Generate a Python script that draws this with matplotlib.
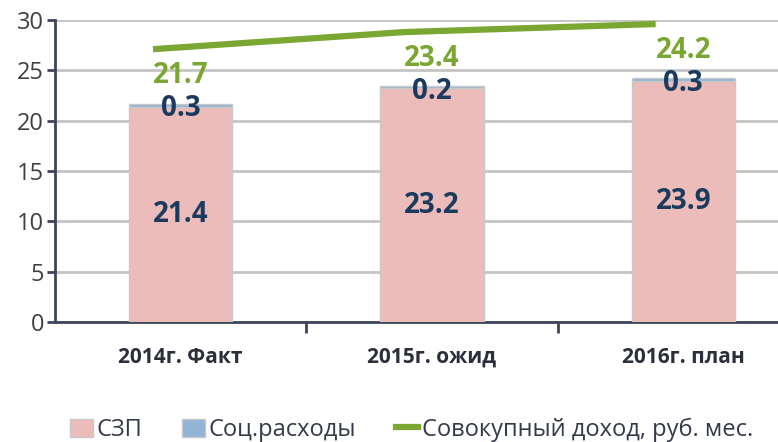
import numpy as np
import matplotlib.pyplot as plt
from matplotlib.patches import Patch
from matplotlib.lines import Line2D

# данные
years = ['2014г. Факт', '2015г. ожид', '2016г. план']
szp = [21.4, 23.2, 23.9]
soc = [0.3, 0.2, 0.3]
income = [21.7, 23.4, 24.2]

plt.rcParams['font.family'] = ['Open Sans', 'DejaVu Sans']

fig = plt.figure(figsize=(7.78, 4.42), dpi=100)
ax = fig.add_axes([55/778, 120/442, 754/778, 302/442])

x = np.arange(len(years))
ax.bar(x, szp, width=0.41, color='#ebbcb9', edgecolor='#c8c8c8', linewidth=1, zorder=3)
ax.bar(x, soc, width=0.41, bottom=szp, color='#92b4d6', edgecolor='#c8c8c8', linewidth=1, zorder=3)

for i in range(len(years)):
    ax.text(x[i], szp[i] / 2, f'{szp[i]:.1f}', ha='center', va='center',
            fontsize=20, fontweight='bold', color='#1c3a5e', zorder=5)
    ax.text(x[i], szp[i] + soc[i] - 0.5, f'{soc[i]:.1f}', ha='center', va='center',
            fontsize=20, fontweight='bold', color='#1c3a5e', zorder=5)

ax.set_xlim(-0.5, 2.5)
ax.set_ylim(0, 30)
ax.set_yticks(range(0, 31, 5))
ax.yaxis.grid(True, color='#c4c4c4', linewidth=2, zorder=0)
ax.set_xticks(x)
ax.set_xticklabels(years, fontsize=15, fontweight='bold', color='#2a2f3a')
ax.set_xticks([0.5, 1.5], minor=True)
ax.tick_params(axis='x', which='major', length=0, pad=18)
ax.tick_params(axis='x', which='minor', length=8, width=2, color='#3c4656', direction='out')
ax.tick_params(axis='y', length=6, width=2, color='#3c4656', labelsize=17,
               labelcolor='#404040', pad=2)
for s in ['top', 'right']:
    ax.spines[s].set_visible(False)
for s in ['left', 'bottom']:
    ax.spines[s].set_color('#3c4656')
    ax.spines[s].set_linewidth(2)

# линия дохода на вспомогательной оси
ax2 = ax.twinx()
ax2.set_ylim(-5.4, 24.6)
ax2.axis('off')
ax2.plot(x - 0.11, income, color='#7aa632', linewidth=4.5, solid_capstyle='butt', zorder=4)
for i in range(len(years)):
    ax2.text(x[i], income[i] - 2.6, f'{income[i]:.1f}', ha='center', va='center',
             fontsize=20, fontweight='bold', color='#7aa632')

# легенда
handles = [Patch(facecolor='#ebbcb9', edgecolor='#c8c8c8'),
           Patch(facecolor='#92b4d6', edgecolor='#c8c8c8'),
           Line2D([0], [0], color='#7aa632', linewidth=4.5)]
labels = ['СЗП', 'Соц.расходы', 'Совокупный доход, руб. мес.']
fig.legend(handles, labels, loc='center left', bbox_to_anchor=(61/778, 1 - 430/442),
           ncol=3, frameon=False, fontsize=17, handlelength=0.95, handleheight=0.85,
           handletextpad=0.15, columnspacing=1.7, labelcolor='#333a48', borderaxespad=0)

fig.savefig('out.png', dpi=100)
